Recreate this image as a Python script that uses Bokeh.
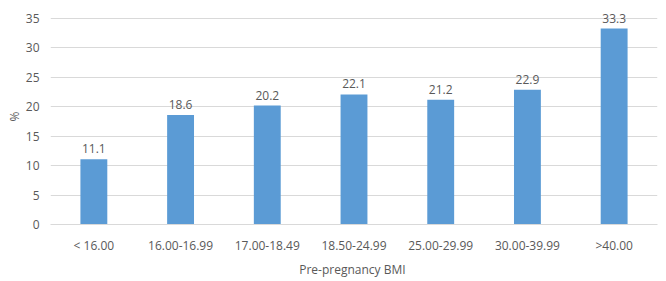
from bokeh.plotting import figure
from bokeh.models import ColumnDataSource, LabelSet
from bokeh.core.properties import value
from bokeh.embed import file_html
from bokeh.resources import INLINE

categories = ["< 16.00", "16.00-16.99", "17.00-18.49", "18.50-24.99", "25.00-29.99", "30.00-39.99", ">40.00"]
values = [11.1, 18.6, 20.2, 22.1, 21.2, 22.9, 33.3]
labels = ["11.1", "18.6", "20.2", "22.1", "21.2", "22.9", "33.3"]
y_ticks = [0, 5, 10, 15, 20, 25, 30, 35]

FONT = "Open Sans"
TXT = "#595959"

src = ColumnDataSource(dict(cat=categories, val=values, lab=labels))

p = figure(x_range=categories, y_range=(0, 36.7), frame_width=607, frame_height=216,
           output_backend="svg", toolbar_location=None,
           min_border_left=50, min_border_right=9, min_border_top=8, min_border_bottom=57)
p.vbar(x="cat", top="val", width=0.31, source=src, color="#5B9BD5", line_color=None)

p.add_layout(LabelSet(x="cat", y="val", text="lab", source=src, text_align="center",
                      text_baseline="bottom", y_offset=6, text_font=value(FONT),
                      text_font_size="12px", text_color=TXT))

p.outline_line_color = None
p.xgrid.grid_line_color = None
p.ygrid.grid_line_color = "#D9D9D9"
p.ygrid.grid_line_width = 1
p.yaxis.ticker = y_ticks
p.yaxis.axis_line_color = None
p.yaxis.major_tick_line_color = None
p.yaxis.minor_tick_line_color = None
p.yaxis.major_label_standoff = 5
p.yaxis.axis_label = "%"
p.yaxis.axis_label_standoff = 0
p.xaxis.axis_line_color = "#D9D9D9"
p.xaxis.major_tick_line_color = None
p.xaxis.minor_tick_line_color = None
p.xaxis.major_label_standoff = 6
p.xaxis.axis_label = "Pre-pregnancy  BMI"
p.xaxis.axis_label_standoff = 4
for ax in (p.xaxis, p.yaxis):
    ax.major_label_text_font = FONT
    ax.major_label_text_font_size = "12px"
    ax.major_label_text_color = TXT
    ax.axis_label_text_font = FONT
    ax.axis_label_text_font_size = "12px"
    ax.axis_label_text_color = TXT
    ax.axis_label_text_font_style = "normal"
p.x_range.range_padding = 0

open("out.html", "w").write(file_html(p, INLINE))
